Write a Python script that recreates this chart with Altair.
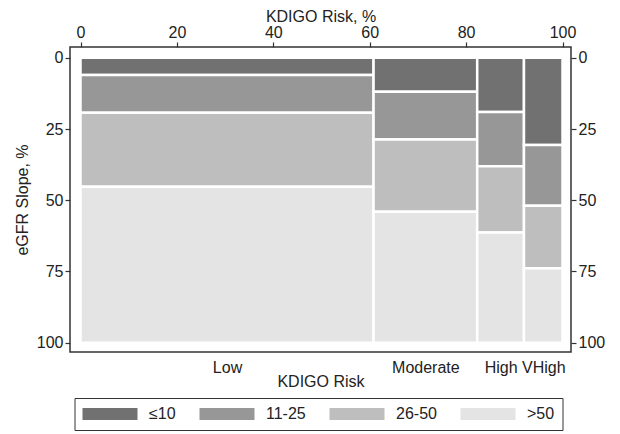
import altair as alt
import pandas as pd

# ---- data ----
categories = ["Low", "Moderate", "High", "VHigh"]
col_widths = [60.8, 21.5, 9.7, 8.0]          # KDIGO risk share, %
groups = ["≤10", "11-25", "26-50", ">50"]     # eGFR slope classes
share_low = [6.0, 13.3, 26.0, 54.7]
share_moderate = [11.9, 16.8, 25.3, 46.0]
share_high = [19.0, 19.1, 23.2, 38.7]
share_vhigh = [30.6, 21.3, 22.0, 26.1]
colors = ["#717171", "#979797", "#bebebe", "#e4e4e4"]
x_ticks = [0, 20, 40, 60, 80, 100]
y_ticks = [0, 25, 50, 75, 100]

shares = [share_low, share_moderate, share_high, share_vhigh]

rows = []
mids = []
x0 = 0.0
for cat, w, sh in zip(categories, col_widths, shares):
    y0 = 0.0
    for g, s in zip(groups, sh):
        rows.append(dict(cat=cat, group=g, x0=x0, x1=x0 + w, y0=y0, y1=y0 + s))
        y0 += s
    mids.append(dict(cat=cat, mid=x0 + w / 2))
    x0 += w
df = pd.DataFrame(rows)
mid_df = pd.DataFrame(mids)

# label expression for bottom axis built from the category list
bounds = []
acc = 0.0
for w in col_widths:
    acc += w
    bounds.append(acc)
expr = "'" + categories[-1] + "'"
for cat, b in reversed(list(zip(categories[:-1], bounds[:-1]))):
    expr = f"datum.value < {b} ? '{cat}' : ({expr})"

xs = alt.Scale(domain=[-2.18, 101.76], nice=False, zero=False)
ys = alt.Scale(domain=[-3.79, 103.26], reverse=True, nice=False, zero=False)

TXT = "#222222"

rects = alt.Chart(df).mark_rect(stroke="white", strokeWidth=2.5).encode(
    x=alt.X("x0:Q", scale=xs, axis=alt.Axis(orient="top", values=x_ticks, format="d",
                                            title="KDIGO Risk, %", labelPadding=2, titlePadding=0)),
    x2="x1:Q",
    y=alt.Y("y0:Q", scale=ys, axis=alt.Axis(orient="left", values=y_ticks, format="d",
                                            title="eGFR Slope, %", labelPadding=2, titlePadding=6)),
    y2="y1:Q",
    color=alt.Color("group:N", scale=alt.Scale(domain=groups, range=colors),
                    legend=alt.Legend(orient="none", legendX=4.5, legendY=351,
                                      direction="horizontal", columns=4, title=None,
                                      symbolType="M-3.4375,-0.75H3.4375V0.75H-3.4375Z",
                                      symbolSize=256, symbolStrokeWidth=0,
                                      symbolOffset=19.5, labelOffset=31,
                                      labelFontSize=16, labelFont="Liberation Sans",
                                      labelColor=TXT, padding=8, strokeColor="#333333",
                                      fillColor="white", gridAlign="each", columnPadding=23)),
)

right = alt.Chart(df).mark_rect(opacity=0).encode(
    x=alt.X("x0:Q", scale=xs, axis=None),
    x2="x1:Q",
    y=alt.Y("y0:Q", scale=ys, axis=alt.Axis(orient="right", values=y_ticks, format="d",
                                            title=None, labelPadding=2)),
    y2="y1:Q",
)

bottom = alt.Chart(mid_df).mark_point(opacity=0).encode(
    x=alt.X("mid:Q", scale=xs, axis=alt.Axis(orient="bottom", values=[m["mid"] for m in mids],
                                             labelExpr=expr, ticks=False, tickSize=0,
                                             labelPadding=7, title="KDIGO Risk",
                                             titlePadding=-2)),
    y=alt.value(0),
)

chart = alt.layer(rects, right, bottom).resolve_axis(
    x="independent", y="independent"
).properties(
    width=501, height=305,
    autosize=alt.AutoSizeParams(type="none"),
    padding={"left": 62, "top": 39, "right": 40, "bottom": 80},
).configure_view(
    stroke="#333333", strokeWidth=1.5
).configure_axis(
    labelFont="Liberation Sans", titleFont="Liberation Sans",
    labelFontSize=16, titleFontSize=16, titleFontWeight="normal",
    labelColor=TXT, titleColor=TXT, tickColor="#333333", tickSize=5, tickWidth=1.2,
    domain=False, grid=False, labelOverlap=False,
)

chart.save("out.html", embed_options={"renderer": "svg", "actions": False})
